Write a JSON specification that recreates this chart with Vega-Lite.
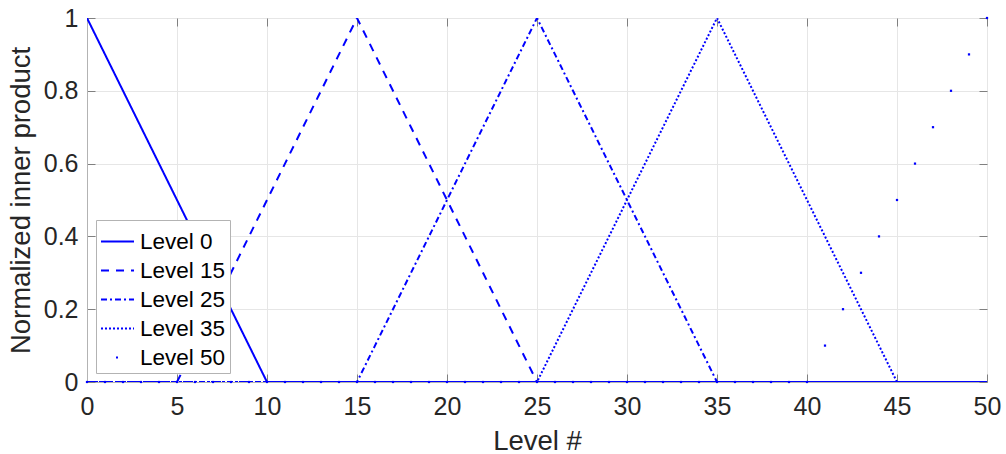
{
  "$schema": "https://vega.github.io/schema/vega-lite/v6.json",
  "width": 900,
  "height": 364,
  "autosize": {"type": "none"},
  "padding": {"left": 87, "top": 18, "right": 19, "bottom": 72},
  "background": "white",
  "config": {
    "font": "Liberation Sans",
    "view": {"stroke": "#b3b3b3", "strokeWidth": 1},
    "axis": {
      "labelFont": "Liberation Sans",
      "titleFont": "Liberation Sans",
      "labelFontSize": 25,
      "titleFontSize": 27.5,
      "labelColor": "#262626",
      "titleColor": "#262626",
      "titleFontWeight": "normal",
      "domainColor": "#b3b3b3",
      "tickColor": "#808080",
      "gridColor": "#e6e6e6",
      "tickSize": -8,
      "labelFlush": false,
      "labelOverlap": false
    },
    "legend": {
      "labelFont": "Liberation Sans",
      "labelFontSize": 22.5,
      "labelColor": "#000000",
      "strokeColor": "#b3b3b3",
      "fillColor": "white",
      "padding": 4,
      "rowPadding": 0,
      "labelOffset": 5,
      "symbolType": "stroke",
      "symbolSize": 1089,
      "symbolStrokeColor": "#0000ff",
      "symbolStrokeWidth": 2,
      "orient": "bottom-left",
      "offset": 9,
      "title": null
    }
  },
  "data": {
    "values": [
      {"x": 0, "Level 0": 1, "Level 15": 0, "Level 25": 0, "Level 35": 0, "Level 50": 0},
      {"x": 1, "Level 0": 0.9, "Level 15": 0, "Level 25": 0, "Level 35": 0, "Level 50": 0},
      {"x": 2, "Level 0": 0.8, "Level 15": 0, "Level 25": 0, "Level 35": 0, "Level 50": 0},
      {"x": 3, "Level 0": 0.7, "Level 15": 0, "Level 25": 0, "Level 35": 0, "Level 50": 0},
      {"x": 4, "Level 0": 0.6, "Level 15": 0, "Level 25": 0, "Level 35": 0, "Level 50": 0},
      {"x": 5, "Level 0": 0.5, "Level 15": 0, "Level 25": 0, "Level 35": 0, "Level 50": 0},
      {"x": 6, "Level 0": 0.4, "Level 15": 0.1, "Level 25": 0, "Level 35": 0, "Level 50": 0},
      {"x": 7, "Level 0": 0.3, "Level 15": 0.2, "Level 25": 0, "Level 35": 0, "Level 50": 0},
      {"x": 8, "Level 0": 0.2, "Level 15": 0.3, "Level 25": 0, "Level 35": 0, "Level 50": 0},
      {"x": 9, "Level 0": 0.1, "Level 15": 0.4, "Level 25": 0, "Level 35": 0, "Level 50": 0},
      {"x": 10, "Level 0": 0, "Level 15": 0.5, "Level 25": 0, "Level 35": 0, "Level 50": 0},
      {"x": 11, "Level 0": 0, "Level 15": 0.6, "Level 25": 0, "Level 35": 0, "Level 50": 0},
      {"x": 12, "Level 0": 0, "Level 15": 0.7, "Level 25": 0, "Level 35": 0, "Level 50": 0},
      {"x": 13, "Level 0": 0, "Level 15": 0.8, "Level 25": 0, "Level 35": 0, "Level 50": 0},
      {"x": 14, "Level 0": 0, "Level 15": 0.9, "Level 25": 0, "Level 35": 0, "Level 50": 0},
      {"x": 15, "Level 0": 0, "Level 15": 1, "Level 25": 0, "Level 35": 0, "Level 50": 0},
      {"x": 16, "Level 0": 0, "Level 15": 0.9, "Level 25": 0.1, "Level 35": 0, "Level 50": 0},
      {"x": 17, "Level 0": 0, "Level 15": 0.8, "Level 25": 0.2, "Level 35": 0, "Level 50": 0},
      {"x": 18, "Level 0": 0, "Level 15": 0.7, "Level 25": 0.3, "Level 35": 0, "Level 50": 0},
      {"x": 19, "Level 0": 0, "Level 15": 0.6, "Level 25": 0.4, "Level 35": 0, "Level 50": 0},
      {"x": 20, "Level 0": 0, "Level 15": 0.5, "Level 25": 0.5, "Level 35": 0, "Level 50": 0},
      {"x": 21, "Level 0": 0, "Level 15": 0.4, "Level 25": 0.6, "Level 35": 0, "Level 50": 0},
      {"x": 22, "Level 0": 0, "Level 15": 0.3, "Level 25": 0.7, "Level 35": 0, "Level 50": 0},
      {"x": 23, "Level 0": 0, "Level 15": 0.2, "Level 25": 0.8, "Level 35": 0, "Level 50": 0},
      {"x": 24, "Level 0": 0, "Level 15": 0.1, "Level 25": 0.9, "Level 35": 0, "Level 50": 0},
      {"x": 25, "Level 0": 0, "Level 15": 0, "Level 25": 1, "Level 35": 0, "Level 50": 0},
      {"x": 26, "Level 0": 0, "Level 15": 0, "Level 25": 0.9, "Level 35": 0.1, "Level 50": 0},
      {"x": 27, "Level 0": 0, "Level 15": 0, "Level 25": 0.8, "Level 35": 0.2, "Level 50": 0},
      {"x": 28, "Level 0": 0, "Level 15": 0, "Level 25": 0.7, "Level 35": 0.3, "Level 50": 0},
      {"x": 29, "Level 0": 0, "Level 15": 0, "Level 25": 0.6, "Level 35": 0.4, "Level 50": 0},
      {"x": 30, "Level 0": 0, "Level 15": 0, "Level 25": 0.5, "Level 35": 0.5, "Level 50": 0},
      {"x": 31, "Level 0": 0, "Level 15": 0, "Level 25": 0.4, "Level 35": 0.6, "Level 50": 0},
      {"x": 32, "Level 0": 0, "Level 15": 0, "Level 25": 0.3, "Level 35": 0.7, "Level 50": 0},
      {"x": 33, "Level 0": 0, "Level 15": 0, "Level 25": 0.2, "Level 35": 0.8, "Level 50": 0},
      {"x": 34, "Level 0": 0, "Level 15": 0, "Level 25": 0.1, "Level 35": 0.9, "Level 50": 0},
      {"x": 35, "Level 0": 0, "Level 15": 0, "Level 25": 0, "Level 35": 1, "Level 50": 0},
      {"x": 36, "Level 0": 0, "Level 15": 0, "Level 25": 0, "Level 35": 0.9, "Level 50": 0},
      {"x": 37, "Level 0": 0, "Level 15": 0, "Level 25": 0, "Level 35": 0.8, "Level 50": 0},
      {"x": 38, "Level 0": 0, "Level 15": 0, "Level 25": 0, "Level 35": 0.7, "Level 50": 0},
      {"x": 39, "Level 0": 0, "Level 15": 0, "Level 25": 0, "Level 35": 0.6, "Level 50": 0},
      {"x": 40, "Level 0": 0, "Level 15": 0, "Level 25": 0, "Level 35": 0.5, "Level 50": 0},
      {"x": 41, "Level 0": 0, "Level 15": 0, "Level 25": 0, "Level 35": 0.4, "Level 50": 0.1},
      {"x": 42, "Level 0": 0, "Level 15": 0, "Level 25": 0, "Level 35": 0.3, "Level 50": 0.2},
      {"x": 43, "Level 0": 0, "Level 15": 0, "Level 25": 0, "Level 35": 0.2, "Level 50": 0.3},
      {"x": 44, "Level 0": 0, "Level 15": 0, "Level 25": 0, "Level 35": 0.1, "Level 50": 0.4},
      {"x": 45, "Level 0": 0, "Level 15": 0, "Level 25": 0, "Level 35": 0, "Level 50": 0.5},
      {"x": 46, "Level 0": 0, "Level 15": 0, "Level 25": 0, "Level 35": 0, "Level 50": 0.6},
      {"x": 47, "Level 0": 0, "Level 15": 0, "Level 25": 0, "Level 35": 0, "Level 50": 0.7},
      {"x": 48, "Level 0": 0, "Level 15": 0, "Level 25": 0, "Level 35": 0, "Level 50": 0.8},
      {"x": 49, "Level 0": 0, "Level 15": 0, "Level 25": 0, "Level 35": 0, "Level 50": 0.9},
      {"x": 50, "Level 0": 0, "Level 15": 0, "Level 25": 0, "Level 35": 0, "Level 50": 1}
    ]
  },
  "transform": [
    {"fold": ["Level 0", "Level 15", "Level 25", "Level 35", "Level 50"], "as": ["series", "y"]}
  ],
  "resolve": {"axis": {"x": "independent", "y": "independent"}},
  "layer": [
    {
      "transform": [{"filter": "datum.series === 'Level 50'"}],
      "mark": {"type": "square", "color": "#0000ff", "filled": true, "size": 5, "opacity": 1},
      "encoding": {
        "x": {
          "field": "x", "type": "quantitative",
          "scale": {"domain": [0, 50], "nice": false},
          "axis": {"orient": "top", "title": null, "labels": false, "grid": false, "domain": false, "values": [0,5,10,15,20,25,30,35,40,45,50]}
        },
        "y": {
          "field": "y", "type": "quantitative",
          "scale": {"domain": [0, 1], "nice": false},
          "axis": {"orient": "right", "title": null, "labels": false, "grid": false, "domain": false, "values": [0,0.2,0.4,0.6,0.8,1]}
        }
      }
    },
    {
      "transform": [{"filter": "datum.series !== 'Level 50'"}],
      "mark": {"type": "line", "color": "#0000ff", "strokeWidth": 2, "clip": true},
      "encoding": {
        "x": {
          "field": "x", "type": "quantitative",
          "scale": {"domain": [0, 50], "nice": false},
          "axis": {"orient": "bottom", "title": "Level #", "values": [0,5,10,15,20,25,30,35,40,45,50], "labelPadding": 20, "titlePadding": 8, "grid": true}
        },
        "y": {
          "field": "y", "type": "quantitative",
          "scale": {"domain": [0, 1], "nice": false},
          "axis": {"orient": "left", "title": "Normalized inner product", "values": [0,0.2,0.4,0.6,0.8,1], "format": ".1~f", "labelPadding": 17, "titlePadding": 8, "grid": true}
        },
        "strokeDash": {
          "field": "series", "type": "nominal",
          "scale": {
            "domain": ["Level 0", "Level 15", "Level 25", "Level 35", "Level 50"],
            "range": [[1, 0], [8, 7], [6, 3, 2, 3], [2, 2], [0, 15, 2, 100]]
          },
          "legend": {"title": null}
        },
        "order": {"field": "series"}
      }
    }
  ]
}
